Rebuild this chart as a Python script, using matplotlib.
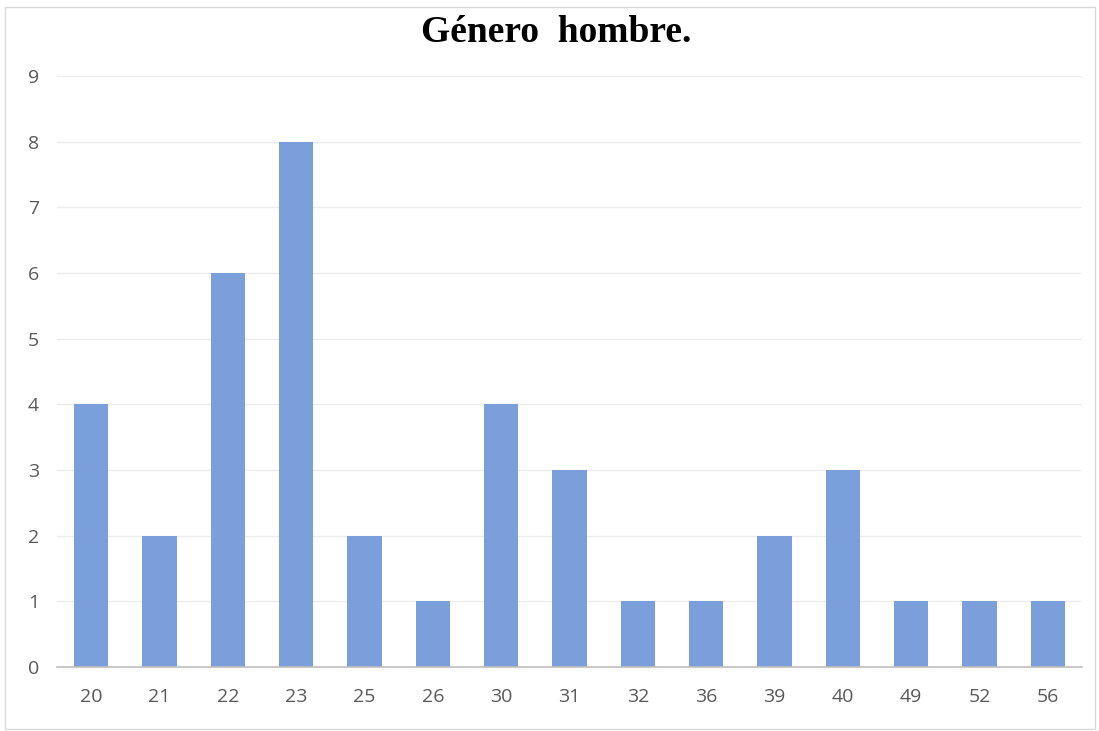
import matplotlib
matplotlib.use("Agg")
import matplotlib.pyplot as plt
from matplotlib.patches import Rectangle

categories = ["20", "21", "22", "23", "25", "26", "30", "31", "32", "36", "39", "40", "49", "52", "56"]
values = [4, 2, 6, 8, 2, 1, 4, 3, 1, 1, 2, 3, 1, 1, 1]
title = "Género  hombre."

fig = plt.figure(figsize=(10.99, 7.31), dpi=100)
fig.patch.set_facecolor("white")
fig.patches.append(Rectangle((5/1099, 1-729/731), 1090/1099, 722/731, transform=fig.transFigure,
                             fill=False, edgecolor="#D9D9D9", linewidth=1.0))
ax = fig.add_axes([57/1099, 1-667/731, 1025/1099, (667-76)/731])
x = list(range(len(categories)))
ax.bar(x, values, width=0.5, color="#7A9FDA", zorder=3)
ax.set_xlim(-0.5, len(categories)-0.5)
ax.set_ylim(0, 9)
ax.set_yticks(range(0, 10))
ax.set_xticks(x)
ax.set_xticklabels(categories)
ax.grid(axis="y", color="#EDEDED", linewidth=1.0, zorder=0)
for s in ["top", "right", "left"]:
    ax.spines[s].set_visible(False)
ax.spines["bottom"].set_color("#BFBFBF")
ax.spines["bottom"].set_linewidth(1.2)
ax.spines["bottom"].set_zorder(4)
ax.tick_params(axis="both", length=0, colors="#595959", labelsize=14)
for lab in ax.get_xticklabels() + ax.get_yticklabels():
    lab.set_family("Open Sans")
ax.tick_params(axis="x", pad=15)
ax.tick_params(axis="y", pad=13)
fig.text(556/1099, 1-32/731, title, ha="center", va="center", fontsize=27, fontweight="bold",
         family="Liberation Serif", color="black")
fig.savefig("out.png", dpi=100)
